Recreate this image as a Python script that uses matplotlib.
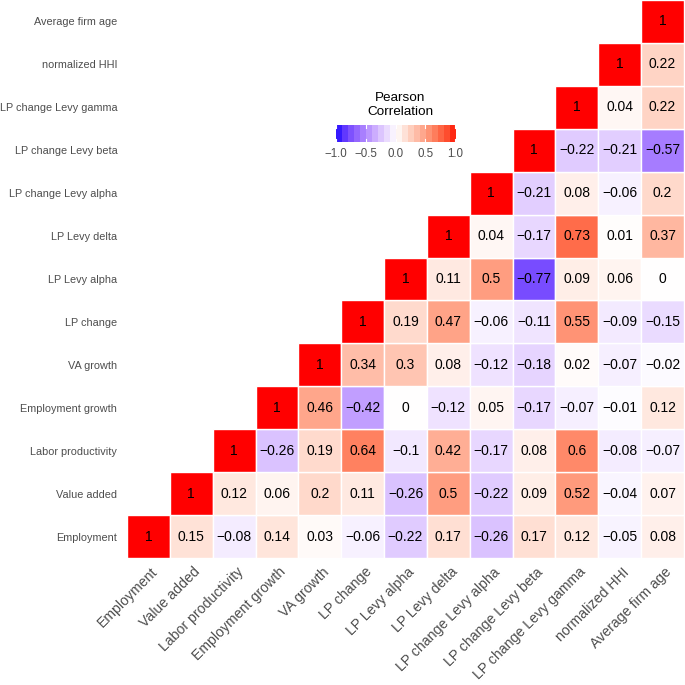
import matplotlib
matplotlib.use("Agg")
import matplotlib.pyplot as plt
import matplotlib.transforms as mtransforms
import numpy as np
from matplotlib.colors import ListedColormap, Normalize

plt.rcParams["font.family"] = ["Liberation Sans", "DejaVu Sans"]

variables = [
    "Employment", "Value added", "Labor productivity", "Employment growth",
    "VA growth", "LP change", "LP Levy alpha", "LP Levy delta",
    "LP change Levy alpha", "LP change Levy beta", "LP change Levy gamma",
    "normalized HHI", "Average firm age",
]

# each row: correlations of that variable with itself and the variables after it
rows = [
    [1, 0.15, -0.08, 0.14, 0.03, -0.06, -0.22, 0.17, -0.26, 0.17, 0.12, -0.05, 0.08],
    [1, 0.12, 0.06, 0.2, 0.11, -0.26, 0.5, -0.22, 0.09, 0.52, -0.04, 0.07],
    [1, -0.26, 0.19, 0.64, -0.1, 0.42, -0.17, 0.08, 0.6, -0.08, -0.07],
    [1, 0.46, -0.42, 0, -0.12, 0.05, -0.17, -0.07, -0.01, 0.12],
    [1, 0.34, 0.3, 0.08, -0.12, -0.18, 0.02, -0.07, -0.02],
    [1, 0.19, 0.47, -0.06, -0.11, 0.55, -0.09, -0.15],
    [1, 0.11, 0.5, -0.77, 0.09, 0.06, 0],
    [1, 0.04, -0.17, 0.73, 0.01, 0.37],
    [1, -0.21, 0.08, -0.06, 0.2],
    [1, -0.22, -0.21, -0.57],
    [1, 0.04, 0.22],
    [1, 0.22],
    [1],
]
legend_ticks = [-1.0, -0.5, 0.0, 0.5, 1.0]


# blue-white-red ramp interpolated in CIELAB, like ggplot's gradient2
def srgb_to_lab(rgb):
    rgb = np.asarray(rgb, dtype=float)
    lin = np.where(rgb <= 0.04045, rgb / 12.92, ((rgb + 0.055) / 1.055) ** 2.4)
    m = np.array([[0.4124, 0.3576, 0.1805],
                  [0.2126, 0.7152, 0.0722],
                  [0.0193, 0.1192, 0.9505]])
    xyz = m @ lin / np.array([0.95047, 1.0, 1.08883])
    f = np.where(xyz > 0.008856, np.cbrt(xyz), 7.787 * xyz + 16 / 116)
    return np.array([116 * f[1] - 16, 500 * (f[0] - f[1]), 200 * (f[1] - f[2])])


def lab_to_srgb(lab):
    L, a, b = lab
    fy = (L + 16) / 116
    fx = fy + a / 500
    fz = fy - b / 200
    f = np.array([fx, fy, fz])
    xyz = np.where(f ** 3 > 0.008856, f ** 3, (f - 16 / 116) / 7.787)
    xyz = xyz * np.array([0.95047, 1.0, 1.08883])
    minv = np.array([[3.2406, -1.5372, -0.4986],
                     [-0.9689, 1.8758, 0.0415],
                     [0.0557, -0.2040, 1.0570]])
    lin = np.clip(minv @ xyz, 0, 1)
    rgb = np.where(lin <= 0.0031308, 12.92 * lin, 1.055 * lin ** (1 / 2.4) - 0.055)
    return np.clip(rgb, 0, 1)


blue_lab = srgb_to_lab([0, 0, 1])
white_lab = srgb_to_lab([1, 1, 1])
red_lab = srgb_to_lab([1, 0, 0])
ramp = []
for t in np.linspace(-1, 1, 256):
    if t < 0:
        lab = white_lab + (blue_lab - white_lab) * (-t)
    else:
        lab = white_lab + (red_lab - white_lab) * t
    ramp.append(lab_to_srgb(lab))
cmap = ListedColormap(ramp)
norm = Normalize(-1, 1)

fig = plt.figure(figsize=(6.85, 6.85), dpi=100)
ax = fig.add_axes([0.1854, 0.1854, 0.8131, 0.8146])

n = len(variables)
for i, row in enumerate(rows):
    for k, val in enumerate(row):
        j = i + k
        ax.add_patch(plt.Rectangle((j - 0.5, i - 0.5), 1, 1, facecolor=cmap(norm(val)),
                                   edgecolor="white", linewidth=1))
        label = f"{val:g}".replace("-", "\u2212")
        ax.text(j, i, label, ha="center", va="center", fontsize=10, color="black")

ax.set_xlim(-0.5, n - 0.5)
ax.set_ylim(-0.5, n - 0.5)
ax.set_xticks(range(n))
ax.set_yticks(range(n))
ax.set_xticklabels(variables, rotation=45, ha="right", va="top", rotation_mode="anchor",
                   fontsize=10.2, color="#4D4D4D")
ax.set_yticklabels(variables, fontsize=7.8, color="#4D4D4D")
ax.tick_params(axis="x", length=0, pad=5)
ax.tick_params(axis="y", length=0, pad=7)
shift = mtransforms.ScaledTranslation(0.02, 0, fig.dpi_scale_trans)
for lab in ax.get_xticklabels():
    lab.set_transform(lab.get_transform() + shift)
for s in ax.spines.values():
    s.set_visible(False)

# legend colourbar
cax = fig.add_axes([334 / 685, 1 - 142 / 685, 123 / 685, 17 / 685])
bins = np.linspace(-1, 1, 21)
centers = (bins[:-1] + bins[1:]) / 2
cax.imshow(centers[np.newaxis, :], cmap=cmap, norm=norm, aspect="auto",
           extent=(-1, 1, 0, 1))
for t in legend_ticks:
    cax.plot([t, t], [0, 0.2], color="white", lw=0.8)
    cax.plot([t, t], [0.8, 1], color="white", lw=0.8)
cax.set_xlim(-1.03, 1.03)
cax.set_ylim(0, 1)
cax.set_yticks([])
cax.set_xticks(legend_ticks)
cax.set_xticklabels([f"{t:.1f}".replace("-", "\u2212") for t in legend_ticks],
                    fontsize=8.3, color="#4D4D4D")
cax.tick_params(length=0, pad=4)
for s in cax.spines.values():
    s.set_visible(False)
fig.text(400 / 685, 1 - 105 / 685, "Pearson\nCorrelation", ha="center", va="center",
         fontsize=9.7, linespacing=1.25)

fig.savefig("out.png", dpi=100, facecolor="white")
